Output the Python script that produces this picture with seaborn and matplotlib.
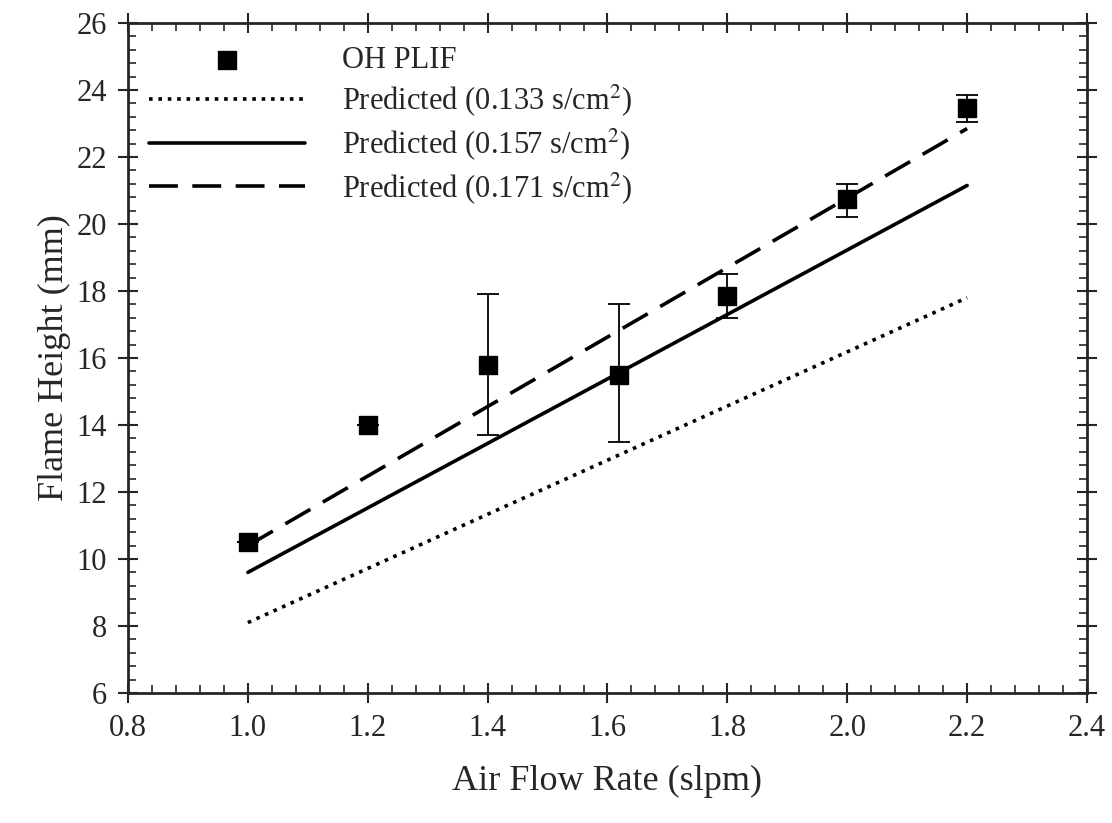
import pandas as pd
import matplotlib
matplotlib.use('Agg')
import matplotlib.pyplot as plt
import seaborn as sns
from matplotlib.ticker import MultipleLocator, AutoMinorLocator

# Measured flame heights (OH PLIF) with error bars
air_flow = [1.0, 1.2, 1.4, 1.62, 1.8, 2.0, 2.2]
flame_height = [10.5, 14.0, 15.8, 15.5, 17.85, 20.75, 23.45]
err_low = [10.5, 14.0, 13.7, 13.5, 17.2, 20.2, 23.05]
err_high = [10.5, 14.0, 17.9, 17.6, 18.5, 21.2, 23.85]

# Predicted lines
pred_x = [1.0, 2.2]
pred_133 = [8.1, 17.8]
pred_157 = [9.6, 21.15]
pred_171 = [10.4, 22.85]

labels = ['OH PLIF', 'Predicted (0.133 s/cm$^2$)', 'Predicted (0.157 s/cm$^2$)',
          'Predicted (0.171 s/cm$^2$)']

sns.set_style('ticks')
plt.rcParams['font.family'] = ['Liberation Serif', 'DejaVu Serif']
plt.rcParams['mathtext.fontset'] = 'stix'

fig = plt.figure(figsize=(11.12, 8.23), dpi=100)
ax = fig.add_axes([0.1151, 0.158, 0.8624, 0.814])

pred = pd.DataFrame({'x': pred_x * 3,
                     'y': pred_133 + pred_157 + pred_171,
                     'series': [labels[1]] * 2 + [labels[2]] * 2 + [labels[3]] * 2})

# Predicted lines
sns.lineplot(data=pred[pred.series == labels[1]], x='x', y='y', ax=ax, color='black',
             linewidth=2.6, linestyle=(0, (1.0, 1.6)), label=labels[1])
sns.lineplot(data=pred[pred.series == labels[2]], x='x', y='y', ax=ax, color='black',
             linewidth=2.6, linestyle='-', label=labels[2])
sns.lineplot(data=pred[pred.series == labels[3]], x='x', y='y', ax=ax, color='black',
             linewidth=2.6, linestyle=(0, (8, 4)), label=labels[3])

# Error bars and data points
yerr = [[h - lo for h, lo in zip(flame_height, err_low)],
        [hi - h for h, hi in zip(flame_height, err_high)]]
ax.errorbar(air_flow, flame_height, yerr=yerr, fmt='none', ecolor='black',
            elinewidth=1.3, capsize=8, capthick=1.3, zorder=3)
sns.scatterplot(x=air_flow, y=flame_height, ax=ax, marker='s', s=150, color='black',
                edgecolor='black', label=labels[0], zorder=4)

ax.set_xlim(0.8, 2.4)
ax.set_ylim(6, 26)
ax.xaxis.set_major_locator(MultipleLocator(0.2))
ax.yaxis.set_major_locator(MultipleLocator(2))
ax.xaxis.set_minor_locator(AutoMinorLocator(5))
ax.yaxis.set_minor_locator(AutoMinorLocator(5))
ax.xaxis.set_major_formatter(matplotlib.ticker.FormatStrFormatter('%.1f'))
ax.tick_params(which='major', direction='inout', length=14, width=1.5, labelsize=22,
               top=True, right=True, pad=8)
ax.tick_params(which='minor', direction='in', length=6, width=1.2, top=True, right=True)
for s in ax.spines.values():
    s.set_linewidth(2)
    s.set_visible(True)

ax.set_xlabel('Air Flow Rate (slpm)', fontsize=26, labelpad=16)
ax.set_ylabel('Flame Height (mm)', fontsize=26, labelpad=4)

# Legend: marker first, then the lines
handles, labs = ax.get_legend_handles_labels()
order = [labs.index(l) for l in labels]
ax.legend([handles[i] for i in order], [labs[i] for i in order], loc='upper left',
          bbox_to_anchor=(0.0, 0.998), frameon=False, fontsize=22, handlelength=5.1,
          handletextpad=1.2, labelspacing=0.26, borderaxespad=0.3)

fig.savefig('out.png', dpi=100)
